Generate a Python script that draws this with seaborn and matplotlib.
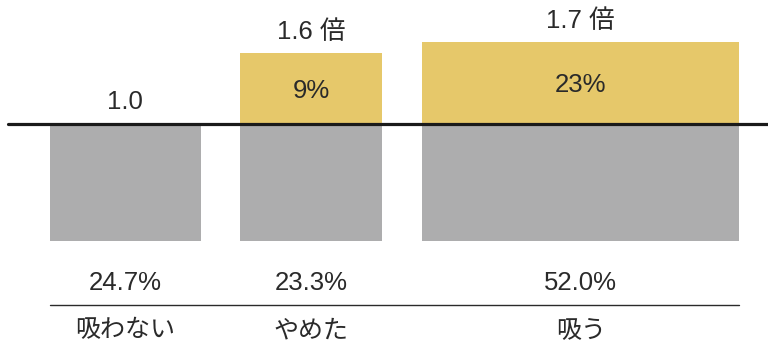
import numpy as np
import matplotlib
matplotlib.use("Agg")
import matplotlib.pyplot as plt
import seaborn as sns

# data
groups = ['吸わない', 'やめた', '吸う']
shares = [24.7, 23.3, 52.0]          # share of people (%), sets bar width
ratios = [1.0, 1.6, 1.7]             # relative risk
excess = [None, '9%', '23%']         # label inside the extra part
ratio_labels = ['1.0', '1.6 倍', '1.7 倍']

gray = '#adadae'
yellow = '#e6c86a'
ink = '#2a2a2a'

sns.set_theme(style='white')
plt.rcParams['font.family'] = ['Liberation Sans', 'Noto Sans CJK JP', 'DejaVu Sans']

fig = plt.figure(figsize=(7.68, 3.57), dpi=100)
ax = fig.add_axes([0, 0, 1, 1])

gap = 6.5
lefts = np.concatenate([[0], np.cumsum(np.array(shares) + gap)[:-1]])
centers = lefts + np.array(shares) / 2

# gray base (1.0) below the baseline
ax.bar(lefts, [-1] * 3, width=shares, align='edge', color=gray, linewidth=0)
# yellow extra above the baseline
extra = [r - 1 for r in ratios]
ax.bar(lefts, extra, width=shares, align='edge', color=yellow, linewidth=0)

# baseline
ax.axhline(0, xmin=0.011, xmax=1, color='#1a1a1a', lw=2.3)

fs = 18.5
for c, e, r, lab, s, g in zip(centers, extra, ratios, ratio_labels, shares, groups):
    ax.text(c, e + 0.18, lab, ha='center', va='center', fontsize=fs, color=ink)
    ax.text(c, -1.363, f'{s:.1f}%', ha='center', va='center', fontsize=fs, color=ink)
    ax.text(c, -1.765, g, ha='center', va='center', fontsize=18, color=ink,
            family=['Noto Sans CJK JP', 'DejaVu Sans'])
for c, e, t in zip(centers, extra, excess):
    if t:
        ax.text(c, e / 2 - 0.02, t, ha='center', va='center', fontsize=fs, color=ink)

# thin rule between shares and group names
ax.plot([lefts[0], lefts[-1] + shares[-1]], [-1.551, -1.551], color=ink, lw=1)

px = 6.1
ax.set_xlim(-50 / px, (768 - 50) / px)
ax.set_ylim(-(357 - 123.5) / 117, 123.5 / 117)
ax.axis('off')

fig.savefig('out.png', dpi=100)
